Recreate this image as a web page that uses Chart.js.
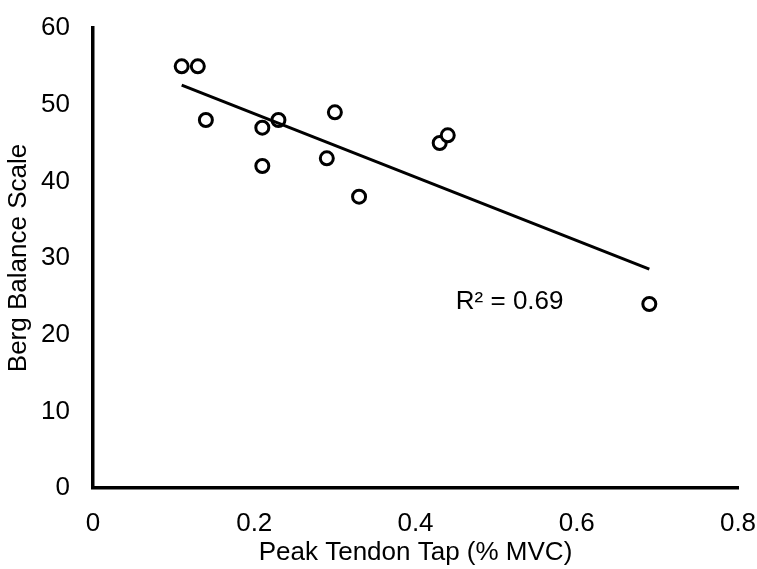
<!DOCTYPE html>
<html lang="en">
<head>
  <meta charset="UTF-8">
  <title>Berg Balance vs Peak Tendon Tap</title>
  <script src="https://cdn.jsdelivr.net/npm/chart.js"></script>
  <style>
    body { margin: 0; background: #fff; }
  </style>
</head>
<body>
<canvas id="myChart" width="757" height="569"></canvas>
<script>
// peak tendon tap (% MVC) and Berg Balance Scale score per subject
const tendonTap = [0.11, 0.13, 0.14, 0.21, 0.21, 0.23, 0.29, 0.30, 0.33, 0.43, 0.44, 0.69];
const bergScore = [55, 55, 48, 47, 42, 48, 43, 49, 38, 45, 46, 24];

const xTicks = [0, 0.2, 0.4, 0.6, 0.8];
const yTicks = [0, 10, 20, 30, 40, 50, 60];

const FONT = 'Liberation Sans, Arial, sans-serif';
const FONT_SIZE = 26;

// least squares fit for the trend line and R²
const n = tendonTap.length;
const mx = tendonTap.reduce((a, b) => a + b, 0) / n;
const my = bergScore.reduce((a, b) => a + b, 0) / n;
let sxy = 0, sxx = 0, syy = 0;
for (let i = 0; i < n; ++i) {
  sxy += (tendonTap[i] - mx) * (bergScore[i] - my);
  sxx += (tendonTap[i] - mx) ** 2;
  syy += (bergScore[i] - my) ** 2;
}
const slope = sxy / sxx;
const intercept = my - slope * mx;
const r2 = (sxy * sxy) / (sxx * syy);
const xMin = Math.min(...tendonTap), xMax = Math.max(...tendonTap);

const points = tendonTap.map((x, i) => ({x: x, y: bergScore[i]}));
const trend = [
  {x: xMin, y: intercept + slope * xMin},
  {x: xMax, y: intercept + slope * xMax},
];

// writes the R² text next to the fitted line
const r2Label = {
  id: 'r2Label',
  afterDatasetsDraw(chart, args, opts) {
    const {ctx, scales} = chart;
    ctx.save();
    ctx.font = FONT_SIZE + 'px ' + FONT;
    ctx.fillStyle = '#000';
    ctx.textAlign = 'left';
    ctx.textBaseline = 'middle';
    ctx.fillText('R² = ' + r2.toFixed(2), scales.x.getPixelForValue(opts.x), scales.y.getPixelForValue(opts.y));
    ctx.restore();
  }
};

const data = {
  datasets: [{
    type: 'scatter',
    data: points,
    pointRadius: 6.5,
    pointBorderWidth: 3,
    pointBackgroundColor: '#fff',
    pointBorderColor: '#000',
    order: 2,
  }, {
    type: 'line',
    data: trend,
    borderColor: '#000',
    borderWidth: 3,
    pointRadius: 0,
    fill: false,
    order: 1,
  }]
};

const config = {
  type: 'scatter',
  data: data,
  options: {
    responsive: false,
    animation: false,
    events: [],
    layout: { padding: { left: 0, top: 28, right: 19, bottom: 0 } },
    plugins: {
      legend: { display: false },
      tooltip: { enabled: false },
      r2Label: { x: 0.45, y: 24.3 },
    },
    scales: {
      x: {
        type: 'linear',
        min: 0,
        max: 0.8,
        afterBuildTicks: (s) => { s.ticks = xTicks.map(v => ({value: v})); },
        // fixed axis height; the last tick label may hang past the plot edge
        afterFit: (s) => { s.height = 81; s.paddingLeft = 0; s.paddingRight = 0; },
        grid: { display: false },
        border: { display: true, color: '#000', width: 3.5 },
        ticks: {
          color: '#000',
          padding: 12,
          font: { family: FONT, size: FONT_SIZE },
          callback: (v) => String(v),
        },
        title: {
          display: true,
          text: 'Peak Tendon Tap (% MVC)',
          color: '#000',
          font: { family: FONT, size: FONT_SIZE },
          padding: { top: 0, bottom: 1 },
        },
      },
      y: {
        type: 'linear',
        min: 0,
        max: 60,
        afterBuildTicks: (s) => { s.ticks = yTicks.map(v => ({value: v})); },
        afterFit: (s) => { s.width = 93; s.paddingTop = 0; s.paddingBottom = 0; },
        grid: { display: false },
        border: { display: true, color: '#000', width: 3.5 },
        ticks: {
          color: '#000',
          padding: 15,
          font: { family: FONT, size: FONT_SIZE },
        },
        title: {
          display: true,
          text: 'Berg Balance Scale',
          color: '#000',
          font: { family: FONT, size: FONT_SIZE },
          padding: { top: 3, bottom: 0 },
        },
      },
    },
  },
  plugins: [r2Label],
};

const myChart = new Chart(
  document.getElementById('myChart'),
  config
);
</script>
</body>
</html>
